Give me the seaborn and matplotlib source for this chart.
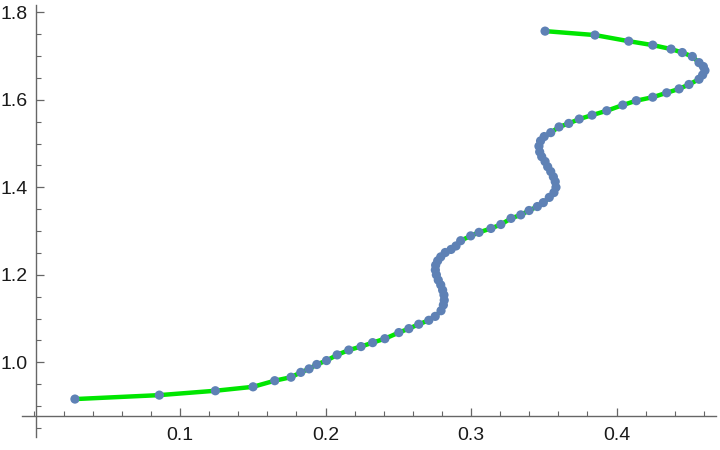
import matplotlib
matplotlib.use("Agg")
import matplotlib.pyplot as plt
from matplotlib.ticker import MultipleLocator, FixedLocator
import seaborn as sns
import pandas as pd

# data (ordered along the curve)
x_vals = [0.0278, 0.0858, 0.1243, 0.1502, 0.1651, 0.1763, 0.1830, 0.1887, 0.1940, 0.2007,
          0.2080, 0.2160, 0.2244, 0.2324, 0.2408, 0.2504, 0.2573, 0.2641, 0.2710, 0.2754,
          0.2794, 0.2810, 0.2816, 0.2814, 0.2805, 0.2792, 0.2775, 0.2762, 0.2755, 0.2757,
          0.2771, 0.2792, 0.2823, 0.2863, 0.2897, 0.2929, 0.2998, 0.3055, 0.3137, 0.3205,
          0.3275, 0.3342, 0.3399, 0.3456, 0.3497, 0.3538, 0.3570, 0.3584, 0.3579, 0.3566,
          0.3548, 0.3527, 0.3509, 0.3486, 0.3472, 0.3467, 0.3478, 0.3503, 0.3548, 0.3605,
          0.3672, 0.3744, 0.3832, 0.3933, 0.4043, 0.4136, 0.4249, 0.4345, 0.4430, 0.4498,
          0.4567, 0.4592, 0.4608, 0.4597, 0.4567, 0.4521, 0.4452, 0.4375, 0.4249, 0.4084,
          0.3852, 0.3509]
y_vals = [0.916, 0.925, 0.935, 0.944, 0.958, 0.966, 0.977, 0.985, 0.995, 1.004,
          1.017, 1.028, 1.036, 1.045, 1.054, 1.068, 1.077, 1.087, 1.096, 1.105,
          1.118, 1.131, 1.142, 1.154, 1.165, 1.177, 1.188, 1.200, 1.211, 1.222,
          1.232, 1.241, 1.251, 1.258, 1.266, 1.278, 1.289, 1.297, 1.306, 1.315,
          1.329, 1.337, 1.347, 1.356, 1.365, 1.377, 1.388, 1.400, 1.413, 1.424,
          1.436, 1.447, 1.459, 1.470, 1.481, 1.494, 1.506, 1.516, 1.525, 1.538,
          1.546, 1.556, 1.565, 1.575, 1.588, 1.598, 1.606, 1.616, 1.625, 1.635,
          1.647, 1.657, 1.667, 1.676, 1.685, 1.699, 1.708, 1.716, 1.725, 1.734,
          1.748, 1.757]
x_ticks = [0.1, 0.2, 0.3, 0.4]
x_tick_labels = ["0.1", "0.2", "0.3", "0.4"]
y_ticks = [1.0, 1.2, 1.4, 1.6, 1.8]
y_tick_labels = ["1.0", "1.2", "1.4", "1.6", "1.8"]

df = pd.DataFrame({"x": x_vals, "y": y_vals})

sns.set_style("white")
plt.rcParams['font.family'] = ['Liberation Sans', 'DejaVu Sans']

fig = plt.figure(figsize=(7.2, 4.5), dpi=100)
ax = fig.add_axes([22 / 720, 13 / 450, 694 / 720, 432 / 450])

sns.lineplot(data=df, x="x", y="y", sort=False, estimator=None, color="#00E600",
             linewidth=3.2, ax=ax, zorder=2)
sns.scatterplot(data=df, x="x", y="y", color="#5E81B5", s=44, edgecolor="none",
                ax=ax, zorder=3)

ax.set_xlim(-0.00859, 0.46838)
ax.set_ylim(0.8293, 1.8167)
ax.set_xlabel("")
ax.set_ylabel("")

axis_col = "#666666"
for side in ["top", "right"]:
    ax.spines[side].set_visible(False)
ax.spines["left"].set_position(("data", 0.001))
ax.spines["bottom"].set_position(("data", 0.8773))
for side in ["left", "bottom"]:
    ax.spines[side].set_color(axis_col)
    ax.spines[side].set_linewidth(1.0)

ax.xaxis.set_major_locator(FixedLocator(x_ticks))
ax.set_xticklabels(x_tick_labels)
ax.xaxis.set_minor_locator(MultipleLocator(0.02))
ax.yaxis.set_major_locator(FixedLocator(y_ticks))
ax.set_yticklabels(y_tick_labels)
ax.yaxis.set_minor_locator(MultipleLocator(0.05))

ax.tick_params(axis="both", which="both", bottom=True, left=True, top=False, right=False)
ax.tick_params(axis="both", which="major", direction="in", length=6, width=0.9,
               color=axis_col, labelsize=14, labelcolor="#1a1a1a")
ax.tick_params(axis="both", which="minor", direction="in", length=3.5, width=0.8,
               color=axis_col)
ax.tick_params(axis="x", which="major", pad=8)
ax.tick_params(axis="y", which="major", pad=6)
ax.patch.set_alpha(0)

fig.savefig("out.png", dpi=100)
